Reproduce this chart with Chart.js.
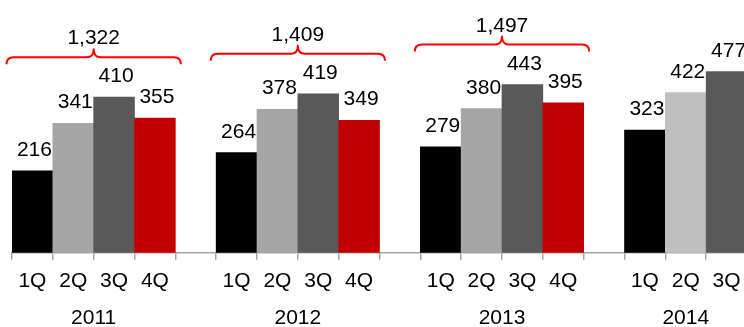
<!DOCTYPE html>
<html>
<head>
<meta charset="utf-8">
<script src="https://cdn.jsdelivr.net/npm/chart.js@4/dist/chart.umd.min.js"></script>
<style>
  html, body { margin: 0; padding: 0; overflow: hidden; background: #fff; }
  #wrap { width: 760px; height: 327px; }
</style>
</head>
<body>
<div id="wrap"><canvas id="c" width="760" height="327"></canvas></div>
<script>
// Quarterly figures by year
const quarters = ['1Q', '2Q', '3Q', '4Q'];
const years = ['2011', '2012', '2013', '2014'];
const q2011 = [216, 341, 410, 355];
const q2012 = [264, 378, 419, 349];
const q2013 = [279, 380, 443, 395];
const q2014 = [323, 422, 477];
// Full-year totals shown above the bracket of each complete year
const yearTotals = [1322, 1409, 1497];

const quarterValues = [q2011, q2012, q2013, q2014];

// Colours per quarter (2014 uses a lighter grey for 2Q)
const palette = ['#000000', '#a6a6a6', '#595959', '#c00000'];
const palette2014 = ['#000000', '#bfbfbf', '#595959', '#c00000'];

// Flatten into one category axis with an empty slot between years
const labels = [];
const values = [];
const colors = [];
const slotYear = [];
quarterValues.forEach((vals, yi) => {
  if (yi > 0) { labels.push(''); values.push(null); colors.push('rgba(0,0,0,0)'); slotYear.push(-1); }
  vals.forEach((v, qi) => {
    labels.push(quarters[qi]);
    values.push(v);
    colors.push((years[yi] === '2014' ? palette2014 : palette)[qi]);
    slotYear.push(yi);
  });
});

const FONT = '"Liberation Sans", Arial, Helvetica, sans-serif';
const FONT_SIZE = 21;
Chart.defaults.font.family = FONT;

function slotsOfYear(yi) {
  const idx = [];
  slotYear.forEach((y, i) => { if (y === yi) idx.push(i); });
  return idx;
}

// Value labels above each bar
const valueLabels = {
  id: 'valueLabels',
  afterDatasetsDraw(chart) {
    const ctx = chart.ctx;
    const meta = chart.getDatasetMeta(0);
    ctx.save();
    ctx.font = FONT_SIZE + 'px ' + FONT;
    ctx.fillStyle = '#000';
    ctx.textAlign = 'center';
    ctx.textBaseline = 'alphabetic';
    meta.data.forEach((bar, i) => {
      const v = values[i];
      if (v == null) return;
      ctx.fillText(String(v), bar.x + 2, bar.y - 15);
    });
    ctx.restore();
  }
};

// Red braces with yearly totals, and year captions below the quarter ticks
const yearDecor = {
  id: 'yearDecor',
  afterDatasetsDraw(chart) {
    const ctx = chart.ctx;
    const xs = chart.scales.x;
    const ys = chart.scales.y;
    const slotW = xs.width / labels.length;
    ctx.save();
    years.forEach((yr, yi) => {
      const idx = slotsOfYear(yi);
      const left = xs.getPixelForValue(idx[0]) - slotW / 2;
      const right = xs.getPixelForValue(idx[idx.length - 1]) + slotW / 2;
      const cx = (left + right) / 2;

      // year caption
      ctx.font = FONT_SIZE + 'px ' + FONT;
      ctx.fillStyle = '#000';
      ctx.textAlign = 'center';
      ctx.textBaseline = 'middle';
      ctx.fillText(yr, cx, chart.chartArea.bottom + 65);

      if (yi >= yearTotals.length) return;
      const maxV = Math.max(...quarterValues[yi]);
      const y = ys.getPixelForValue(maxV) - 40;
      const x0 = left - 5.5;
      const x1 = right + 5.5;
      const r = 7;
      ctx.strokeStyle = '#ff0000';
      ctx.lineWidth = 2;
      ctx.lineJoin = 'round';
      ctx.beginPath();
      ctx.moveTo(x0, y + r);
      ctx.quadraticCurveTo(x0, y, x0 + r, y);
      ctx.lineTo(cx - r, y);
      ctx.quadraticCurveTo(cx, y, cx, y - 8);
      ctx.quadraticCurveTo(cx, y, cx + r, y);
      ctx.lineTo(x1 - r, y);
      ctx.quadraticCurveTo(x1, y, x1, y + r);
      ctx.stroke();

      ctx.fillStyle = '#000';
      ctx.textBaseline = 'alphabetic';
      ctx.fillText(yearTotals[yi].toLocaleString('en-US'), cx, y - 13);
    });
    ctx.restore();
  }
};

new Chart(document.getElementById('c'), {
  type: 'bar',
  data: {
    labels: labels,
    datasets: [{
      data: values,
      backgroundColor: colors,
      borderWidth: 0,
      barPercentage: 1,
      categoryPercentage: 1
    }]
  },
  options: {
    responsive: false,
    animation: false,
    layout: { padding: { left: 12, right: 13, top: 25, bottom: 24 } },
    plugins: { legend: { display: false }, tooltip: { enabled: false } },
    scales: {
      x: {
        grid: {
          offset: true,
          drawOnChartArea: false,
          drawTicks: true,
          tickLength: 7,
          color: '#a6a6a6',
          lineWidth: 1.5
        },
        border: { display: true, color: '#a6a6a6', width: 1.5 },
        ticks: {
          autoSkip: false,
          maxRotation: 0,
          padding: 9,
          color: '#000',
          font: { size: FONT_SIZE, family: FONT }
        }
      },
      y: {
        display: false,
        min: 0,
        max: 600
      }
    }
  },
  plugins: [valueLabels, yearDecor]
});
</script>
</body>
</html>
